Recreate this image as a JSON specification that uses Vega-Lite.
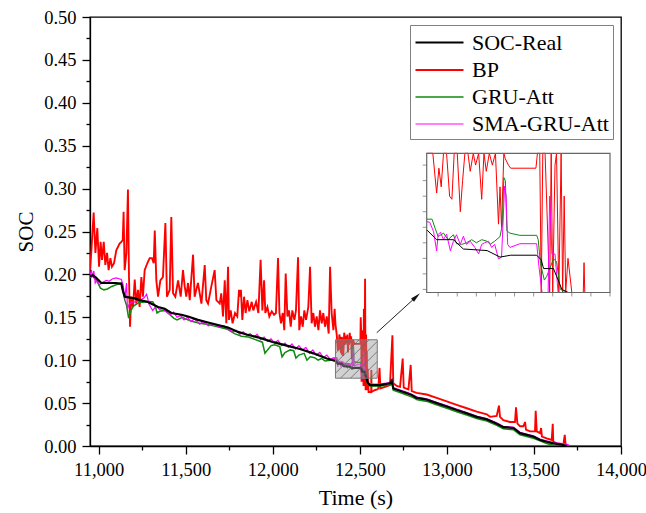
{
  "$schema": "https://vega.github.io/schema/vega-lite/v6.json",
  "autosize": "none",
  "width": 531,
  "height": 429,
  "padding": {"left": 90, "top": 17, "right": 25, "bottom": 67},
  "background": "white",
  "config": {
    "font": "Liberation Serif",
    "view": {"stroke": "black", "strokeWidth": 1.3},
    "axis": {
      "grid": false,
      "domainColor": "black",
      "domainWidth": 1.3,
      "tickColor": "black",
      "tickWidth": 1.3,
      "labelFont": "Liberation Serif",
      "labelFontSize": 18.5,
      "labelColor": "black",
      "titleFont": "Liberation Serif",
      "titleFontSize": 22,
      "titleFontWeight": "normal",
      "titleColor": "black"
    }
  },
  "datasets": {
    "soc": [
      {"s":"BP","t":10950,"v":0.205},{"s":"BP","t":10958,"v":0.228},{"s":"BP","t":10971,"v":0.272},{"s":"BP","t":10981,"v":0.225},{"s":"BP","t":10992,"v":0.254},{"s":"BP","t":11002,"v":0.209},{"s":"BP","t":11011,"v":0.238},{"s":"BP","t":11019,"v":0.217},{"s":"BP","t":11029,"v":0.238},{"s":"BP","t":11038,"v":0.211},{"s":"BP","t":11048,"v":0.225},{"s":"BP","t":11057,"v":0.205},{"s":"BP","t":11067,"v":0.219},{"s":"BP","t":11076,"v":0.209},{"s":"BP","t":11088,"v":0.213},{"s":"BP","t":11101,"v":0.228},{"s":"BP","t":11120,"v":0.236},{"s":"BP","t":11130,"v":0.238},{"s":"BP","t":11138,"v":0.240},{"s":"BP","t":11143,"v":0.273},{"s":"BP","t":11149,"v":0.205},{"s":"BP","t":11159,"v":0.225},{"s":"BP","t":11168,"v":0.299},{"s":"BP","t":11174,"v":0.197},{"s":"BP","t":11180,"v":0.139},{"s":"BP","t":11187,"v":0.174},{"s":"BP","t":11197,"v":0.162},{"s":"BP","t":11207,"v":0.194},{"s":"BP","t":11216,"v":0.166},{"s":"BP","t":11226,"v":0.182},{"s":"BP","t":11235,"v":0.162},{"s":"BP","t":11245,"v":0.197},{"s":"BP","t":11254,"v":0.174},{"s":"BP","t":11264,"v":0.205},{"s":"BP","t":11279,"v":0.213},{"s":"BP","t":11293,"v":0.219},{"s":"BP","t":11306,"v":0.219},{"s":"BP","t":11316,"v":0.213},{"s":"BP","t":11322,"v":0.251},{"s":"BP","t":11331,"v":0.193},{"s":"BP","t":11341,"v":0.174},{"s":"BP","t":11354,"v":0.193},{"s":"BP","t":11369,"v":0.197},{"s":"BP","t":11383,"v":0.260},{"s":"BP","t":11392,"v":0.174},{"s":"BP","t":11408,"v":0.182},{"s":"BP","t":11417,"v":0.267},{"s":"BP","t":11427,"v":0.178},{"s":"BP","t":11440,"v":0.174},{"s":"BP","t":11456,"v":0.193},{"s":"BP","t":11471,"v":0.174},{"s":"BP","t":11484,"v":0.205},{"s":"BP","t":11494,"v":0.186},{"s":"BP","t":11503,"v":0.174},{"s":"BP","t":11513,"v":0.190},{"s":"BP","t":11523,"v":0.170},{"s":"BP","t":11542,"v":0.223},{"s":"BP","t":11551,"v":0.174},{"s":"BP","t":11570,"v":0.190},{"s":"BP","t":11590,"v":0.166},{"s":"BP","t":11609,"v":0.211},{"s":"BP","t":11618,"v":0.170},{"s":"BP","t":11628,"v":0.166},{"s":"BP","t":11647,"v":0.186},{"s":"BP","t":11666,"v":0.205},{"s":"BP","t":11676,"v":0.170},{"s":"BP","t":11695,"v":0.166},{"s":"BP","t":11704,"v":0.178},{"s":"BP","t":11714,"v":0.151},{"s":"BP","t":11724,"v":0.193},{"s":"BP","t":11733,"v":0.143},{"s":"BP","t":11743,"v":0.209},{"s":"BP","t":11748,"v":0.147},{"s":"BP","t":11758,"v":0.158},{"s":"BP","t":11769,"v":0.143},{"s":"BP","t":11783,"v":0.155},{"s":"BP","t":11796,"v":0.151},{"s":"BP","t":11806,"v":0.182},{"s":"BP","t":11812,"v":0.174},{"s":"BP","t":11817,"v":0.182},{"s":"BP","t":11825,"v":0.147},{"s":"BP","t":11835,"v":0.174},{"s":"BP","t":11844,"v":0.155},{"s":"BP","t":11854,"v":0.170},{"s":"BP","t":11865,"v":0.157},{"s":"BP","t":11879,"v":0.168},{"s":"BP","t":11888,"v":0.158},{"s":"BP","t":11904,"v":0.168},{"s":"BP","t":11917,"v":0.155},{"s":"BP","t":11930,"v":0.217},{"s":"BP","t":11940,"v":0.158},{"s":"BP","t":11950,"v":0.193},{"s":"BP","t":11957,"v":0.155},{"s":"BP","t":11969,"v":0.162},{"s":"BP","t":11980,"v":0.151},{"s":"BP","t":11994,"v":0.157},{"s":"BP","t":12007,"v":0.153},{"s":"BP","t":12018,"v":0.155},{"s":"BP","t":12030,"v":0.219},{"s":"BP","t":12038,"v":0.155},{"s":"BP","t":12047,"v":0.143},{"s":"BP","t":12057,"v":0.155},{"s":"BP","t":12066,"v":0.135},{"s":"BP","t":12074,"v":0.201},{"s":"BP","t":12084,"v":0.151},{"s":"BP","t":12093,"v":0.158},{"s":"BP","t":12103,"v":0.139},{"s":"BP","t":12112,"v":0.158},{"s":"BP","t":12124,"v":0.147},{"s":"BP","t":12133,"v":0.158},{"s":"BP","t":12145,"v":0.220},{"s":"BP","t":12152,"v":0.135},{"s":"BP","t":12162,"v":0.151},{"s":"BP","t":12172,"v":0.139},{"s":"BP","t":12181,"v":0.158},{"s":"BP","t":12191,"v":0.147},{"s":"BP","t":12204,"v":0.162},{"s":"BP","t":12214,"v":0.209},{"s":"BP","t":12223,"v":0.143},{"s":"BP","t":12233,"v":0.155},{"s":"BP","t":12242,"v":0.139},{"s":"BP","t":12252,"v":0.151},{"s":"BP","t":12262,"v":0.135},{"s":"BP","t":12271,"v":0.158},{"s":"BP","t":12281,"v":0.143},{"s":"BP","t":12290,"v":0.155},{"s":"BP","t":12300,"v":0.139},{"s":"BP","t":12310,"v":0.151},{"s":"BP","t":12321,"v":0.131},{"s":"BP","t":12329,"v":0.209},{"s":"BP","t":12338,"v":0.155},{"s":"BP","t":12348,"v":0.135},{"s":"BP","t":12355,"v":0.160},{"s":"BP","t":12360,"v":0.142},{"s":"BP","t":12368,"v":0.128},{"s":"BP","t":12373,"v":0.111},{"s":"BP","t":12376,"v":0.119},{"s":"BP","t":12379,"v":0.113},{"s":"BP","t":12382,"v":0.130},{"s":"BP","t":12386,"v":0.126},{"s":"BP","t":12390,"v":0.110},{"s":"BP","t":12393,"v":0.109},{"s":"BP","t":12396,"v":0.127},{"s":"BP","t":12400,"v":0.124},{"s":"BP","t":12404,"v":0.105},{"s":"BP","t":12407,"v":0.115},{"s":"BP","t":12410,"v":0.132},{"s":"BP","t":12414,"v":0.127},{"s":"BP","t":12417,"v":0.118},{"s":"BP","t":12421,"v":0.128},{"s":"BP","t":12424,"v":0.120},{"s":"BP","t":12428,"v":0.130},{"s":"BP","t":12432,"v":0.109},{"s":"BP","t":12435,"v":0.125},{"s":"BP","t":12438,"v":0.118},{"s":"BP","t":12442,"v":0.132},{"s":"BP","t":12446,"v":0.120},{"s":"BP","t":12450,"v":0.128},{"s":"BP","t":12454,"v":0.101},{"s":"BP","t":12456,"v":0.113},{"s":"BP","t":12458,"v":0.100},{"s":"BP","t":12461,"v":0.124},{"s":"BP","t":12463,"v":0.122},{"s":"BP","t":12467,"v":0.120},{"s":"BP","t":12470,"v":0.119},{"s":"BP","t":12503,"v":0.119},{"s":"BP","t":12505,"v":0.150},{"s":"BP","t":12508,"v":0.130},{"s":"BP","t":12510,"v":0.075},{"s":"BP","t":12512,"v":0.135},{"s":"BP","t":12515,"v":0.125},{"s":"BP","t":12521,"v":0.070},{"s":"BP","t":12523,"v":0.160},{"s":"BP","t":12525,"v":0.070},{"s":"BP","t":12528,"v":0.120},{"s":"BP","t":12530,"v":0.195},{"s":"BP","t":12533,"v":0.065},{"s":"BP","t":12536,"v":0.130},{"s":"BP","t":12538,"v":0.070},{"s":"BP","t":12540,"v":0.110},{"s":"BP","t":12542,"v":0.065},{"s":"BP","t":12545,"v":0.090},{"s":"BP","t":12550,"v":0.063},{"s":"BP","t":12565,"v":0.063},{"s":"BP","t":12566,"v":0.0886},{"s":"BP","t":12567,"v":0.063},{"s":"BP","t":12587,"v":0.0653},{"s":"BP","t":12600,"v":0.066},{"s":"BP","t":12606,"v":0.067},{"s":"BP","t":12613,"v":0.091},{"s":"BP","t":12618,"v":0.067},{"s":"BP","t":12645,"v":0.069},{"s":"BP","t":12673,"v":0.071},{"s":"BP","t":12687,"v":0.129},{"s":"BP","t":12692,"v":0.073},{"s":"BP","t":12712,"v":0.070},{"s":"BP","t":12731,"v":0.069},{"s":"BP","t":12746,"v":0.102},{"s":"BP","t":12752,"v":0.068},{"s":"BP","t":12779,"v":0.066},{"s":"BP","t":12792,"v":0.0945},{"s":"BP","t":12798,"v":0.064},{"s":"BP","t":12826,"v":0.062},{"s":"BP","t":12884,"v":0.060},{"s":"BP","t":12941,"v":0.056},{"s":"BP","t":12999,"v":0.052},{"s":"BP","t":13056,"v":0.048},{"s":"BP","t":13114,"v":0.044},{"s":"BP","t":13171,"v":0.040},{"s":"BP","t":13229,"v":0.037},{"s":"BP","t":13248,"v":0.034},{"s":"BP","t":13286,"v":0.035},{"s":"BP","t":13299,"v":0.047},{"s":"BP","t":13305,"v":0.034},{"s":"BP","t":13324,"v":0.030},{"s":"BP","t":13362,"v":0.028},{"s":"BP","t":13391,"v":0.028},{"s":"BP","t":13397,"v":0.045},{"s":"BP","t":13405,"v":0.026},{"s":"BP","t":13420,"v":0.023},{"s":"BP","t":13439,"v":0.023},{"s":"BP","t":13449,"v":0.028},{"s":"BP","t":13454,"v":0.019},{"s":"BP","t":13477,"v":0.017},{"s":"BP","t":13506,"v":0.017},{"s":"BP","t":13510,"v":0.041},{"s":"BP","t":13516,"v":0.017},{"s":"BP","t":13535,"v":0.015},{"s":"BP","t":13541,"v":0.021},{"s":"BP","t":13546,"v":0.011},{"s":"BP","t":13573,"v":0.009},{"s":"BP","t":13602,"v":0.007},{"s":"BP","t":13608,"v":0.026},{"s":"BP","t":13611,"v":0.005},{"s":"BP","t":13631,"v":0.003},{"s":"BP","t":13669,"v":0.002},{"s":"BP","t":13677,"v":0.013},{"s":"BP","t":13682,"v":0.001},{"s":"BP","t":13698,"v":0.000},

      {"s":"GRU-Att","t":10950,"v":0.196},{"s":"GRU-Att","t":10965,"v":0.198},{"s":"GRU-Att","t":10990,"v":0.192},{"s":"GRU-Att","t":11010,"v":0.184},{"s":"GRU-Att","t":11030,"v":0.182},{"s":"GRU-Att","t":11050,"v":0.183},{"s":"GRU-Att","t":11075,"v":0.186},{"s":"GRU-Att","t":11100,"v":0.188},{"s":"GRU-Att","t":11130,"v":0.190},{"s":"GRU-Att","t":11140,"v":0.180},{"s":"GRU-Att","t":11150,"v":0.170},{"s":"GRU-Att","t":11160,"v":0.164},{"s":"GRU-Att","t":11172,"v":0.149},{"s":"GRU-Att","t":11185,"v":0.158},{"s":"GRU-Att","t":11200,"v":0.163},{"s":"GRU-Att","t":11230,"v":0.167},{"s":"GRU-Att","t":11270,"v":0.168},{"s":"GRU-Att","t":11310,"v":0.168},{"s":"GRU-Att","t":11325,"v":0.163},{"s":"GRU-Att","t":11335,"v":0.155},{"s":"GRU-Att","t":11350,"v":0.157},{"s":"GRU-Att","t":11380,"v":0.158},{"s":"GRU-Att","t":11410,"v":0.153},{"s":"GRU-Att","t":11430,"v":0.149},{"s":"GRU-Att","t":11450,"v":0.147},{"s":"GRU-Att","t":11480,"v":0.150},{"s":"GRU-Att","t":11500,"v":0.148},{"s":"GRU-Att","t":11540,"v":0.145},{"s":"GRU-Att","t":11580,"v":0.143},{"s":"GRU-Att","t":11620,"v":0.142},{"s":"GRU-Att","t":11660,"v":0.140},{"s":"GRU-Att","t":11700,"v":0.138},{"s":"GRU-Att","t":11740,"v":0.136},{"s":"GRU-Att","t":11780,"v":0.131},{"s":"GRU-Att","t":11820,"v":0.128},{"s":"GRU-Att","t":11860,"v":0.127},{"s":"GRU-Att","t":11900,"v":0.124},{"s":"GRU-Att","t":11940,"v":0.121},{"s":"GRU-Att","t":11955,"v":0.108},{"s":"GRU-Att","t":11970,"v":0.112},{"s":"GRU-Att","t":11990,"v":0.117},{"s":"GRU-Att","t":12010,"v":0.118},{"s":"GRU-Att","t":12040,"v":0.116},{"s":"GRU-Att","t":12053,"v":0.104},{"s":"GRU-Att","t":12070,"v":0.109},{"s":"GRU-Att","t":12100,"v":0.112},{"s":"GRU-Att","t":12120,"v":0.111},{"s":"GRU-Att","t":12133,"v":0.1025},{"s":"GRU-Att","t":12150,"v":0.106},{"s":"GRU-Att","t":12180,"v":0.108},{"s":"GRU-Att","t":12196,"v":0.100},{"s":"GRU-Att","t":12215,"v":0.104},{"s":"GRU-Att","t":12240,"v":0.103},{"s":"GRU-Att","t":12260,"v":0.100},{"s":"GRU-Att","t":12280,"v":0.102},{"s":"GRU-Att","t":12300,"v":0.099},{"s":"GRU-Att","t":12330,"v":0.100},{"s":"GRU-Att","t":12350,"v":0.101},{"s":"GRU-Att","t":12360,"v":0.1026},{"s":"GRU-Att","t":12367,"v":0.1026},{"s":"GRU-Att","t":12371,"v":0.0997},{"s":"GRU-Att","t":12375,"v":0.097},{"s":"GRU-Att","t":12382,"v":0.0981},{"s":"GRU-Att","t":12388,"v":0.096},{"s":"GRU-Att","t":12395,"v":0.0976},{"s":"GRU-Att","t":12399,"v":0.0947},{"s":"GRU-Att","t":12406,"v":0.0945},{"s":"GRU-Att","t":12412,"v":0.095},{"s":"GRU-Att","t":12419,"v":0.096},{"s":"GRU-Att","t":12425,"v":0.095},{"s":"GRU-Att","t":12432,"v":0.096},{"s":"GRU-Att","t":12439,"v":0.0955},{"s":"GRU-Att","t":12443,"v":0.0945},{"s":"GRU-Att","t":12449,"v":0.0955},{"s":"GRU-Att","t":12456,"v":0.097},{"s":"GRU-Att","t":12459,"v":0.1007},{"s":"GRU-Att","t":12461,"v":0.116},{"s":"GRU-Att","t":12463,"v":0.115},{"s":"GRU-Att","t":12465,"v":0.0988},{"s":"GRU-Att","t":12469,"v":0.0981},{"s":"GRU-Att","t":12482,"v":0.0974},{"s":"GRU-Att","t":12504,"v":0.0974},{"s":"GRU-Att","t":12506,"v":0.096},{"s":"GRU-Att","t":12509,"v":0.0883},{"s":"GRU-Att","t":12514,"v":0.083},{"s":"GRU-Att","t":12517,"v":0.0841},{"s":"GRU-Att","t":12526,"v":0.0898},{"s":"GRU-Att","t":12530,"v":0.089},{"s":"GRU-Att","t":12535,"v":0.080},{"s":"GRU-Att","t":12545,"v":0.072},{"s":"GRU-Att","t":12560,"v":0.070},{"s":"GRU-Att","t":12600,"v":0.070},{"s":"GRU-Att","t":12620,"v":0.070},{"s":"GRU-Att","t":12675,"v":0.071},{"s":"GRU-Att","t":12685,"v":0.074},{"s":"GRU-Att","t":12692,"v":0.065},{"s":"GRU-Att","t":12750,"v":0.061},{"s":"GRU-Att","t":12800,"v":0.057},{"s":"GRU-Att","t":12830,"v":0.054},{"s":"GRU-Att","t":12885,"v":0.052},{"s":"GRU-Att","t":12940,"v":0.048},{"s":"GRU-Att","t":13000,"v":0.044},{"s":"GRU-Att","t":13056,"v":0.040},{"s":"GRU-Att","t":13114,"v":0.036},{"s":"GRU-Att","t":13171,"v":0.032},{"s":"GRU-Att","t":13229,"v":0.029},{"s":"GRU-Att","t":13286,"v":0.024},{"s":"GRU-Att","t":13324,"v":0.020},{"s":"GRU-Att","t":13382,"v":0.019},{"s":"GRU-Att","t":13420,"v":0.013},{"s":"GRU-Att","t":13458,"v":0.011},{"s":"GRU-Att","t":13497,"v":0.009},{"s":"GRU-Att","t":13535,"v":0.006},{"s":"GRU-Att","t":13573,"v":0.003},{"s":"GRU-Att","t":13611,"v":0.001},{"s":"GRU-Att","t":13650,"v":0.000},{"s":"GRU-Att","t":13680,"v":0.000},

      {"s":"SMA-GRU-Att","t":10950,"v":0.199},{"s":"SMA-GRU-Att","t":10958,"v":0.205},{"s":"SMA-GRU-Att","t":10965,"v":0.197},{"s":"SMA-GRU-Att","t":10972,"v":0.204},{"s":"SMA-GRU-Att","t":10980,"v":0.190},{"s":"SMA-GRU-Att","t":10990,"v":0.193},{"s":"SMA-GRU-Att","t":11005,"v":0.188},{"s":"SMA-GRU-Att","t":11025,"v":0.191},{"s":"SMA-GRU-Att","t":11045,"v":0.193},{"s":"SMA-GRU-Att","t":11060,"v":0.192},{"s":"SMA-GRU-Att","t":11080,"v":0.195},{"s":"SMA-GRU-Att","t":11100,"v":0.196},{"s":"SMA-GRU-Att","t":11130,"v":0.194},{"s":"SMA-GRU-Att","t":11140,"v":0.188},{"s":"SMA-GRU-Att","t":11150,"v":0.172},{"s":"SMA-GRU-Att","t":11160,"v":0.190},{"s":"SMA-GRU-Att","t":11165,"v":0.160},{"s":"SMA-GRU-Att","t":11175,"v":0.165},{"s":"SMA-GRU-Att","t":11190,"v":0.168},{"s":"SMA-GRU-Att","t":11210,"v":0.168},{"s":"SMA-GRU-Att","t":11240,"v":0.170},{"s":"SMA-GRU-Att","t":11262,"v":0.173},{"s":"SMA-GRU-Att","t":11275,"v":0.177},{"s":"SMA-GRU-Att","t":11290,"v":0.165},{"s":"SMA-GRU-Att","t":11310,"v":0.158},{"s":"SMA-GRU-Att","t":11330,"v":0.163},{"s":"SMA-GRU-Att","t":11350,"v":0.159},{"s":"SMA-GRU-Att","t":11370,"v":0.160},{"s":"SMA-GRU-Att","t":11390,"v":0.156},{"s":"SMA-GRU-Att","t":11410,"v":0.153},{"s":"SMA-GRU-Att","t":11430,"v":0.156},{"s":"SMA-GRU-Att","t":11450,"v":0.150},{"s":"SMA-GRU-Att","t":11470,"v":0.152},{"s":"SMA-GRU-Att","t":11490,"v":0.147},{"s":"SMA-GRU-Att","t":11510,"v":0.150},{"s":"SMA-GRU-Att","t":11530,"v":0.145},{"s":"SMA-GRU-Att","t":11550,"v":0.148},{"s":"SMA-GRU-Att","t":11580,"v":0.142},{"s":"SMA-GRU-Att","t":11600,"v":0.145},{"s":"SMA-GRU-Att","t":11630,"v":0.140},{"s":"SMA-GRU-Att","t":11660,"v":0.142},{"s":"SMA-GRU-Att","t":11690,"v":0.139},{"s":"SMA-GRU-Att","t":11720,"v":0.140},{"s":"SMA-GRU-Att","t":11743,"v":0.136},{"s":"SMA-GRU-Att","t":11770,"v":0.133},{"s":"SMA-GRU-Att","t":11790,"v":0.135},{"s":"SMA-GRU-Att","t":11810,"v":0.130},{"s":"SMA-GRU-Att","t":11830,"v":0.133},{"s":"SMA-GRU-Att","t":11850,"v":0.129},{"s":"SMA-GRU-Att","t":11870,"v":0.131},{"s":"SMA-GRU-Att","t":11890,"v":0.127},{"s":"SMA-GRU-Att","t":11910,"v":0.130},{"s":"SMA-GRU-Att","t":11930,"v":0.124},{"s":"SMA-GRU-Att","t":11950,"v":0.127},{"s":"SMA-GRU-Att","t":11970,"v":0.122},{"s":"SMA-GRU-Att","t":11990,"v":0.125},{"s":"SMA-GRU-Att","t":12010,"v":0.120},{"s":"SMA-GRU-Att","t":12030,"v":0.123},{"s":"SMA-GRU-Att","t":12050,"v":0.117},{"s":"SMA-GRU-Att","t":12070,"v":0.120},{"s":"SMA-GRU-Att","t":12090,"v":0.115},{"s":"SMA-GRU-Att","t":12110,"v":0.119},{"s":"SMA-GRU-Att","t":12130,"v":0.113},{"s":"SMA-GRU-Att","t":12150,"v":0.117},{"s":"SMA-GRU-Att","t":12170,"v":0.112},{"s":"SMA-GRU-Att","t":12190,"v":0.115},{"s":"SMA-GRU-Att","t":12210,"v":0.108},{"s":"SMA-GRU-Att","t":12230,"v":0.112},{"s":"SMA-GRU-Att","t":12250,"v":0.106},{"s":"SMA-GRU-Att","t":12270,"v":0.109},{"s":"SMA-GRU-Att","t":12290,"v":0.103},{"s":"SMA-GRU-Att","t":12310,"v":0.106},{"s":"SMA-GRU-Att","t":12330,"v":0.101},{"s":"SMA-GRU-Att","t":12350,"v":0.103},{"s":"SMA-GRU-Att","t":12360,"v":0.1018},{"s":"SMA-GRU-Att","t":12364,"v":0.1016},{"s":"SMA-GRU-Att","t":12369,"v":0.0986},{"s":"SMA-GRU-Att","t":12373,"v":0.0924},{"s":"SMA-GRU-Att","t":12375,"v":0.0976},{"s":"SMA-GRU-Att","t":12378,"v":0.0984},{"s":"SMA-GRU-Att","t":12382,"v":0.096},{"s":"SMA-GRU-Att","t":12386,"v":0.0978},{"s":"SMA-GRU-Att","t":12391,"v":0.0924},{"s":"SMA-GRU-Att","t":12395,"v":0.0955},{"s":"SMA-GRU-Att","t":12399,"v":0.0976},{"s":"SMA-GRU-Att","t":12404,"v":0.0945},{"s":"SMA-GRU-Att","t":12408,"v":0.0971},{"s":"SMA-GRU-Att","t":12412,"v":0.0945},{"s":"SMA-GRU-Att","t":12417,"v":0.0955},{"s":"SMA-GRU-Att","t":12423,"v":0.0935},{"s":"SMA-GRU-Att","t":12428,"v":0.0914},{"s":"SMA-GRU-Att","t":12432,"v":0.0945},{"s":"SMA-GRU-Att","t":12436,"v":0.095},{"s":"SMA-GRU-Att","t":12441,"v":0.0955},{"s":"SMA-GRU-Att","t":12445,"v":0.0935},{"s":"SMA-GRU-Att","t":12449,"v":0.0945},{"s":"SMA-GRU-Att","t":12454,"v":0.0898},{"s":"SMA-GRU-Att","t":12458,"v":0.0904},{"s":"SMA-GRU-Att","t":12462,"v":0.1132},{"s":"SMA-GRU-Att","t":12464,"v":0.110},{"s":"SMA-GRU-Att","t":12466,"v":0.0945},{"s":"SMA-GRU-Att","t":12469,"v":0.0935},{"s":"SMA-GRU-Att","t":12482,"v":0.0947},{"s":"SMA-GRU-Att","t":12504,"v":0.0947},{"s":"SMA-GRU-Att","t":12507,"v":0.0873},{"s":"SMA-GRU-Att","t":12511,"v":0.079},{"s":"SMA-GRU-Att","t":12519,"v":0.079},{"s":"SMA-GRU-Att","t":12521,"v":0.110},{"s":"SMA-GRU-Att","t":12524,"v":0.0914},{"s":"SMA-GRU-Att","t":12528,"v":0.0914},{"s":"SMA-GRU-Att","t":12532,"v":0.079},{"s":"SMA-GRU-Att","t":12540,"v":0.076},{"s":"SMA-GRU-Att","t":12550,"v":0.073},{"s":"SMA-GRU-Att","t":12560,"v":0.072},{"s":"SMA-GRU-Att","t":12600,"v":0.072},{"s":"SMA-GRU-Att","t":12640,"v":0.073},{"s":"SMA-GRU-Att","t":12675,"v":0.074},{"s":"SMA-GRU-Att","t":12685,"v":0.077},{"s":"SMA-GRU-Att","t":12692,"v":0.068},{"s":"SMA-GRU-Att","t":12720,"v":0.066},{"s":"SMA-GRU-Att","t":12750,"v":0.064},{"s":"SMA-GRU-Att","t":12780,"v":0.062},{"s":"SMA-GRU-Att","t":12800,"v":0.060},{"s":"SMA-GRU-Att","t":12830,"v":0.057},{"s":"SMA-GRU-Att","t":12884,"v":0.055},{"s":"SMA-GRU-Att","t":12941,"v":0.051},{"s":"SMA-GRU-Att","t":12999,"v":0.047},{"s":"SMA-GRU-Att","t":13056,"v":0.043},{"s":"SMA-GRU-Att","t":13114,"v":0.039},{"s":"SMA-GRU-Att","t":13171,"v":0.035},{"s":"SMA-GRU-Att","t":13229,"v":0.032},{"s":"SMA-GRU-Att","t":13286,"v":0.027},{"s":"SMA-GRU-Att","t":13324,"v":0.023},{"s":"SMA-GRU-Att","t":13382,"v":0.022},{"s":"SMA-GRU-Att","t":13420,"v":0.016},{"s":"SMA-GRU-Att","t":13458,"v":0.014},{"s":"SMA-GRU-Att","t":13497,"v":0.012},{"s":"SMA-GRU-Att","t":13535,"v":0.008},{"s":"SMA-GRU-Att","t":13573,"v":0.006},{"s":"SMA-GRU-Att","t":13611,"v":0.004},{"s":"SMA-GRU-Att","t":13650,"v":0.003},{"s":"SMA-GRU-Att","t":13690,"v":0.002},{"s":"SMA-GRU-Att","t":13700,"v":0.001},

      {"s":"SOC-Real","t":10950,"v":0.198},{"s":"SOC-Real","t":10965,"v":0.199},{"s":"SOC-Real","t":10980,"v":0.197},{"s":"SOC-Real","t":11000,"v":0.193},{"s":"SOC-Real","t":11015,"v":0.190},{"s":"SOC-Real","t":11050,"v":0.190},{"s":"SOC-Real","t":11100,"v":0.190},{"s":"SOC-Real","t":11130,"v":0.189},{"s":"SOC-Real","t":11140,"v":0.180},{"s":"SOC-Real","t":11150,"v":0.174},{"s":"SOC-Real","t":11180,"v":0.173},{"s":"SOC-Real","t":11207,"v":0.172},{"s":"SOC-Real","t":11235,"v":0.170},{"s":"SOC-Real","t":11280,"v":0.168},{"s":"SOC-Real","t":11300,"v":0.166},{"s":"SOC-Real","t":11341,"v":0.162},{"s":"SOC-Real","t":11379,"v":0.160},{"s":"SOC-Real","t":11417,"v":0.155},{"s":"SOC-Real","t":11475,"v":0.153},{"s":"SOC-Real","t":11513,"v":0.151},{"s":"SOC-Real","t":11570,"v":0.147},{"s":"SOC-Real","t":11628,"v":0.144},{"s":"SOC-Real","t":11685,"v":0.141},{"s":"SOC-Real","t":11743,"v":0.138},{"s":"SOC-Real","t":11800,"v":0.133},{"s":"SOC-Real","t":11850,"v":0.130},{"s":"SOC-Real","t":11926,"v":0.126},{"s":"SOC-Real","t":12003,"v":0.121},{"s":"SOC-Real","t":12080,"v":0.117},{"s":"SOC-Real","t":12156,"v":0.113},{"s":"SOC-Real","t":12233,"v":0.108},{"s":"SOC-Real","t":12310,"v":0.102},{"s":"SOC-Real","t":12345,"v":0.100},{"s":"SOC-Real","t":12360,"v":0.0992},{"s":"SOC-Real","t":12373,"v":0.096},{"s":"SOC-Real","t":12395,"v":0.096},{"s":"SOC-Real","t":12408,"v":0.093},{"s":"SOC-Real","t":12439,"v":0.0925},{"s":"SOC-Real","t":12456,"v":0.0904},{"s":"SOC-Real","t":12470,"v":0.091},{"s":"SOC-Real","t":12504,"v":0.091},{"s":"SOC-Real","t":12510,"v":0.0895},{"s":"SOC-Real","t":12513,"v":0.0867},{"s":"SOC-Real","t":12526,"v":0.0867},{"s":"SOC-Real","t":12537,"v":0.080},{"s":"SOC-Real","t":12545,"v":0.074},{"s":"SOC-Real","t":12558,"v":0.071},{"s":"SOC-Real","t":12600,"v":0.071},{"s":"SOC-Real","t":12616,"v":0.071},{"s":"SOC-Real","t":12673,"v":0.073},{"s":"SOC-Real","t":12683,"v":0.076},{"s":"SOC-Real","t":12692,"v":0.067},{"s":"SOC-Real","t":12750,"v":0.063},{"s":"SOC-Real","t":12798,"v":0.0595},{"s":"SOC-Real","t":12826,"v":0.056},{"s":"SOC-Real","t":12884,"v":0.054},{"s":"SOC-Real","t":12941,"v":0.050},{"s":"SOC-Real","t":12999,"v":0.046},{"s":"SOC-Real","t":13056,"v":0.042},{"s":"SOC-Real","t":13114,"v":0.038},{"s":"SOC-Real","t":13171,"v":0.034},{"s":"SOC-Real","t":13229,"v":0.031},{"s":"SOC-Real","t":13286,"v":0.026},{"s":"SOC-Real","t":13324,"v":0.022},{"s":"SOC-Real","t":13382,"v":0.021},{"s":"SOC-Real","t":13420,"v":0.015},{"s":"SOC-Real","t":13458,"v":0.013},{"s":"SOC-Real","t":13497,"v":0.011},{"s":"SOC-Real","t":13535,"v":0.007},{"s":"SOC-Real","t":13573,"v":0.005},{"s":"SOC-Real","t":13611,"v":0.003},{"s":"SOC-Real","t":13650,"v":0.002},{"s":"SOC-Real","t":13688,"v":0.000}
    ],
    "zoomBox": [{"t": 12360, "v": 0.079, "t2": 12600, "v2": 0.1238}],
    "hatch": [
      {"t": 12360, "v": 0.1198, "t2": 12380.7, "v2": 0.1238},
      {"t": 12360, "v": 0.1081, "t2": 12438.1, "v2": 0.1238},
      {"t": 12360, "v": 0.0965, "t2": 12495.6, "v2": 0.1238},
      {"t": 12360, "v": 0.0848, "t2": 12553.0, "v2": 0.1238},
      {"t": 12388.7, "v": 0.079, "t2": 12600, "v2": 0.1219},
      {"t": 12446.2, "v": 0.079, "t2": 12600, "v2": 0.1102},
      {"t": 12503.6, "v": 0.079, "t2": 12600, "v2": 0.0986},
      {"t": 12561.0, "v": 0.079, "t2": 12600, "v2": 0.0869}
    ],
    "arrowLine": [{"t": 12597, "v": 0.132, "t2": 12824, "v2": 0.174}],
    "arrowHead": [{"t": 12824, "v": 0.174}],
    "insetTicksX": [
      {"t": 12375, "v": 0.079}, {"t": 12400, "v": 0.079}, {"t": 12425, "v": 0.079}, {"t": 12450, "v": 0.079}, {"t": 12475, "v": 0.079}, {"t": 12500, "v": 0.079}, {"t": 12525, "v": 0.079}, {"t": 12550, "v": 0.079}, {"t": 12575, "v": 0.079}, {"t": 12600, "v": 0.079}
    ],
    "insetTicksY": [
      {"t": 12360, "v": 0.080}, {"t": 12360, "v": 0.085}, {"t": 12360, "v": 0.090}, {"t": 12360, "v": 0.095}, {"t": 12360, "v": 0.100}, {"t": 12360, "v": 0.105}, {"t": 12360, "v": 0.110}, {"t": 12360, "v": 0.115}, {"t": 12360, "v": 0.120}
    ]
  },
  "layer": [
    {
      "encoding": {
        "x": {
          "field": "t", "type": "quantitative", "title": "Time (s)",
          "scale": {"domain": [10950, 14000], "nice": false, "zero": false},
          "axis": {
            "values": [11000, 11250, 11500, 11750, 12000, 12250, 12500, 12750, 13000, 13250, 13500, 13750, 14000],
            "labelExpr": "datum.value % 500 == 0 ? format(datum.value, ',') : ''",
            "tickSize": {"condition": {"test": "datum.value % 500 == 0", "value": 8}, "value": 4},
            "labelPadding": 6, "titlePadding": 9, "labelFlush": false, "labelOverlap": false
          }
        },
        "y": {
          "field": "v", "type": "quantitative", "title": "SOC",
          "scale": {"domain": [0, 0.5], "nice": false},
          "axis": {
            "values": [0, 0.025, 0.05, 0.075, 0.1, 0.125, 0.15, 0.175, 0.2, 0.225, 0.25, 0.275, 0.3, 0.325, 0.35, 0.375, 0.4, 0.425, 0.45, 0.475, 0.5],
            "labelExpr": "abs(datum.value * 20 - round(datum.value * 20)) < 0.001 ? format(datum.value, '.2f') : ''",
            "tickSize": {"condition": {"test": "abs(datum.value * 20 - round(datum.value * 20)) < 0.001", "value": 8}, "value": 4},
            "labelPadding": 6, "titlePadding": 7, "titleFontSize": 21, "labelOverlap": false
          }
        }
      },
      "layer": [
        {
          "data": {"name": "soc"},
          "mark": {"type": "line", "clip": true, "interpolate": "linear"},
          "encoding": {
            "color": {
              "field": "s", "type": "nominal",
              "scale": {"domain": ["SOC-Real", "BP", "GRU-Att", "SMA-GRU-Att"], "range": ["#000000", "#ff0000", "#108a10", "#ff00ff"]},
              "legend": {
                "title": null, "orient": "top-right", "offset": 8,
                "fillColor": "white", "strokeColor": "#808080", "padding": 4,
                "symbolType": "M-1,0H3", "symbolSize": 576,
                "labelFont": "Liberation Serif", "labelFontSize": 22, "labelColor": "black",
                "labelOffset": 31, "rowPadding": 3, "labelLimit": 220
              }
            },
            "strokeWidth": {
              "field": "s", "type": "nominal",
              "scale": {"domain": ["SOC-Real", "BP", "GRU-Att", "SMA-GRU-Att"], "range": [2.2, 1.2, 1.3, 1.4]},
              "legend": {
                "title": null, "orient": "top-right", "offset": 8,
                "fillColor": "white", "strokeColor": "#808080", "padding": 4,
                "symbolType": "M-1,0H3", "symbolSize": 576,
                "labelFont": "Liberation Serif", "labelFontSize": 22, "labelColor": "black",
                "labelOffset": 31, "rowPadding": 3, "labelLimit": 220
              }
            }
          }
        },
        {
          "data": {"name": "zoomBox"},
          "mark": {"type": "rect", "fill": "#9a9a9a", "fillOpacity": 0.45, "stroke": "#7a7a7a", "strokeWidth": 1},
          "encoding": {"x2": {"field": "t2"}, "y2": {"field": "v2"}}
        },
        {
          "data": {"name": "hatch"},
          "mark": {"type": "rule", "stroke": "#666666", "strokeWidth": 0.8},
          "encoding": {"x2": {"field": "t2"}, "y2": {"field": "v2"}}
        },
        {
          "data": {"name": "arrowLine"},
          "mark": {"type": "rule", "stroke": "#222222", "strokeWidth": 1},
          "encoding": {"x2": {"field": "t2"}, "y2": {"field": "v2"}}
        },
        {
          "data": {"name": "arrowHead"},
          "mark": {"type": "point", "shape": "M0,-1L0.45,1L-0.45,1Z", "size": 100, "angle": 48, "filled": true, "fill": "#111111", "stroke": null, "opacity": 1},
          "encoding": {}
        }
      ]
    },
    {
      "encoding": {
        "x": {
          "field": "t", "type": "quantitative",
          "scale": {"domain": [12360, 12600], "range": [336.7, 520], "nice": false, "zero": false, "clamp": true},
          "axis": null
        },
        "y": {
          "field": "v", "type": "quantitative",
          "scale": {"domain": [0.079, 0.1238], "range": [275.5, 136.3], "nice": false, "zero": false, "clamp": true},
          "axis": null
        }
      },
      "layer": [
        {
          "data": {"name": "zoomBox"},
          "mark": {"type": "rect", "fill": "white", "strokeWidth": 0},
          "encoding": {"x2": {"field": "t2"}, "y2": {"field": "v2"}}
        },
        {
          "data": {"name": "soc"},
          "transform": [{"filter": "datum.t >= 12360 && datum.t <= 12600"}],
          "mark": {"type": "line", "strokeWidth": 1},
          "encoding": {
            "color": {"field": "s", "type": "nominal"}
          }
        },
        {
          "data": {"name": "zoomBox"},
          "mark": {"type": "rect", "fill": null, "fillOpacity": 0, "stroke": "#666666", "strokeWidth": 1.2},
          "encoding": {"x2": {"field": "t2"}, "y2": {"field": "v2"}}
        },
        {
          "data": {"name": "insetTicksX"},
          "mark": {"type": "tick", "orient": "vertical", "size": 4, "thickness": 1, "yOffset": 2, "color": "#666666"},
          "encoding": {}
        },
        {
          "data": {"name": "insetTicksY"},
          "mark": {"type": "tick", "orient": "horizontal", "size": 4, "thickness": 1, "xOffset": -2, "color": "#666666"},
          "encoding": {}
        }
      ]
    }
  ],
  "resolve": {"scale": {"x": "independent", "y": "independent"}}
}
